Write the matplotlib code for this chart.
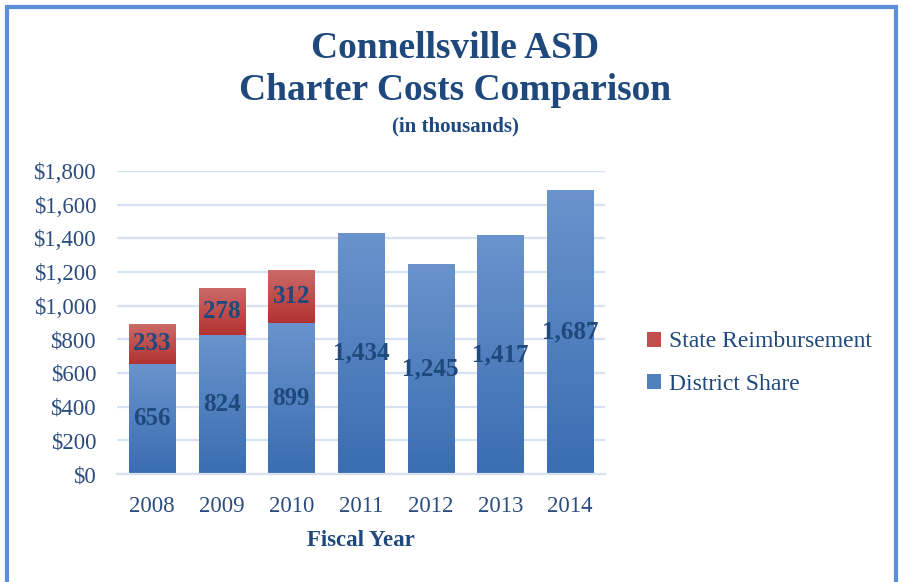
import numpy as np
import matplotlib.pyplot as plt
from matplotlib.patches import Rectangle, Patch
from matplotlib.colors import LinearSegmentedColormap

years = ["2008", "2009", "2010", "2011", "2012", "2013", "2014"]
district_share = [656, 824, 899, 1434, 1245, 1417, 1687]
state_reimb = [233, 278, 312, 0, 0, 0, 0]

plt.rcParams['font.family'] = ['Liberation Serif', 'DejaVu Serif']
text_color = '#1F497D'
tick_color = '#2B4C7E'

fig = plt.figure(figsize=(9.05, 5.82), dpi=100)
ax = fig.add_axes([117 / 905, 1 - 474 / 582, 488 / 905, 303 / 582])

blue_cmap = LinearSegmentedColormap.from_list('b', ['#3A6DB1', '#6A93CD'])
red_cmap = LinearSegmentedColormap.from_list('r', ['#B23232', '#CB6A68'])

x = np.arange(len(years))
width = 0.66
grad = np.linspace(0, 1, 100).reshape(-1, 1)

def gradient_bars(xs, bottoms, heights, cmap):
    for xi, b, h in zip(xs, bottoms, heights):
        if h <= 0:
            continue
        rect = Rectangle((xi - width / 2, b), width, h, facecolor='none', edgecolor='none')
        ax.add_patch(rect)
        im = ax.imshow(grad, extent=(xi - width / 2, xi + width / 2, b, b + h),
                       origin='lower', cmap=cmap, aspect='auto', zorder=2)
        im.set_clip_path(rect)

gradient_bars(x, [0] * len(x), district_share, blue_cmap)
gradient_bars(x, district_share, state_reimb, red_cmap)
ax.set_aspect('auto')
ax.set_xlim(-0.5, len(years) - 0.5)
ax.set_ylim(0, 1800)

for xi, d, s in zip(x, district_share, state_reimb):
    ax.text(xi, d / 2, f"{d:,}", ha='center', va='center', fontsize=18,
            fontweight='bold', color=text_color, zorder=3)
    if s > 0:
        ax.text(xi, d + s / 2, f"{s:,}", ha='center', va='center', fontsize=18,
                fontweight='bold', color=text_color, zorder=3)

ax.set_yticks(np.arange(0, 1801, 200))
ax.set_yticklabels([f"${v:,}" for v in range(0, 1801, 200)])
ax.set_xticks(x)
ax.set_xticklabels(years)
ax.tick_params(axis='both', length=0, labelsize=16.5, labelcolor=tick_color)
ax.tick_params(axis='x', pad=16)
ax.tick_params(axis='y', pad=15)
ax.grid(axis='y', color='#D6E2F2', linewidth=1.6, zorder=0)
ax.set_axisbelow(True)
for sp in ['top', 'right', 'left']:
    ax.spines[sp].set_visible(False)
ax.spines['bottom'].set_color('#D6E2F2')
ax.spines['bottom'].set_linewidth(1.6)

ax.set_xlabel("Fiscal Year", fontsize=16.5, fontweight='bold', color=text_color, labelpad=9)

fig.text(0.503, 1 - 48 / 582, "Connellsville ASD", ha='center', va='center',
         fontsize=27, fontweight='bold', color=text_color)
fig.text(0.503, 1 - 91 / 582, "Charter Costs Comparison", ha='center', va='center',
         fontsize=27, fontweight='bold', color=text_color)
fig.text(0.503, 1 - 126 / 582, "(in thousands)", ha='center', va='center',
         fontsize=15, fontweight='bold', color=text_color)

handles = [Patch(facecolor='#C0504D', label='State Reimbursement'),
           Patch(facecolor='#4F81BD', label='District Share')]
leg = fig.legend(handles=handles, loc='center left', bbox_to_anchor=(626 / 905, 1 - 363 / 582),
                 frameon=False, fontsize=17, handlelength=0.6, handleheight=0.6,
                 handletextpad=0.3, labelspacing=0.9)
for t in leg.get_texts():
    t.set_color(text_color)

fig.add_artist(Rectangle((7 / 905, -0.05), 889 / 905, 1.05 - 7 / 582, transform=fig.transFigure,
                         fill=False, edgecolor='#5B8FD8', linewidth=3))

fig.savefig('out.png', dpi=100)
